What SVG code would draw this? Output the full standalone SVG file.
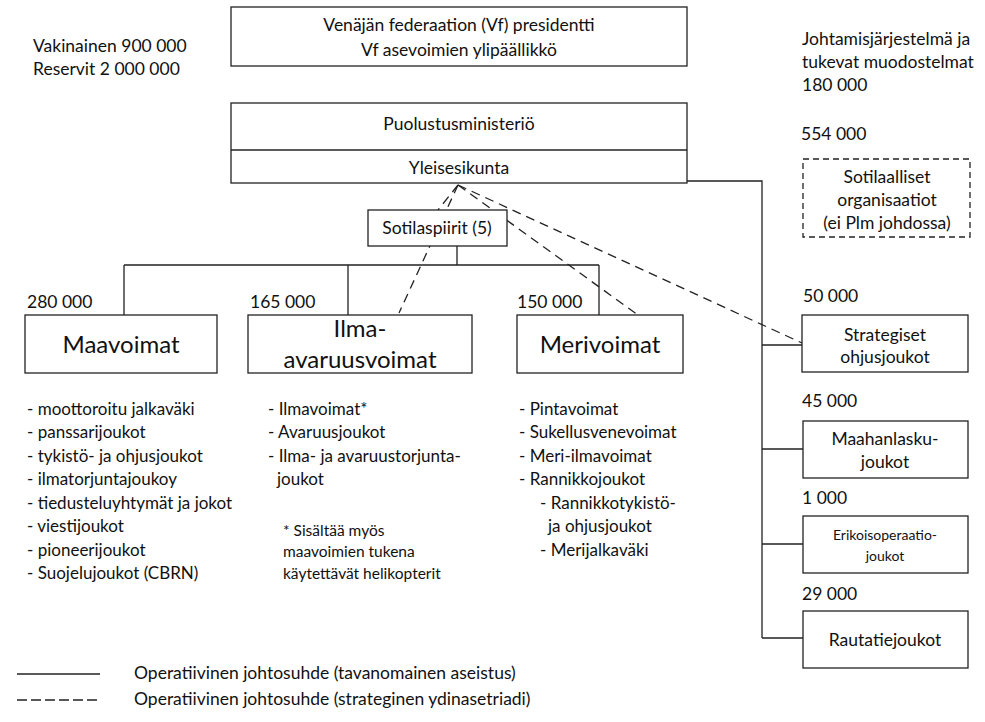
<svg xmlns="http://www.w3.org/2000/svg" width="985" height="722" viewBox="0 0 985 722">
<style>
text { font-family: Lato, "Open Sans", "Liberation Sans", sans-serif; fill: #111; font-size: 17.5px; }
.c { text-anchor: middle; }
.big { font-size: 24px; }
.li { font-size: 17px; }
.sm { font-size: 14px; }
.fn { font-size: 15.5px; }
.box { fill: #fff; stroke: #222; stroke-width: 1.3; }
.dbox { fill: #fff; stroke: #222; stroke-width: 1.3; stroke-dasharray: 6 4; }
.ln { fill: none; stroke: #222; stroke-width: 1.3; }
.dl { fill: none; stroke: #222; stroke-width: 1.3; stroke-dasharray: 9 6; }
</style>
<rect width="985" height="722" fill="#fff"/>

<g id="connectors">
  <path class="ln" d="M687,181 H762 V638 M762,345 H802 M762,449 H803 M762,544 H803 M762,638 H803"/>
  <path class="ln" d="M457,246 V265 M124,265 H599 M124,265 V315 M348,265 V315 M599,265 V315"/>
  <path class="dl" d="M458,185 L399,313"/>
  <path class="dl" d="M458,185 L438,210"/>
  <path class="dl" d="M458,185 L638,315"/>
  <path class="dl" d="M458,185 L802,343"/>
</g>

<g id="presidentti">
  <rect class="box" x="231" y="7" width="456" height="59"/>
  <text class="c" x="459" y="31">Venäjän federaation (Vf) presidentti</text>
  <text class="c" x="459" y="56">Vf asevoimien ylipäällikkö</text>
</g>

<g id="vahvuus">
  <text x="33" y="52">Vakinainen 900 000</text>
  <text x="33" y="75">Reservit 2 000 000</text>
</g>

<g id="johtamisjarjestelma">
  <text x="802" y="45">Johtamisjärjestelmä ja</text>
  <text x="802" y="68">tukevat muodostelmat</text>
  <text x="802" y="91">180 000</text>
</g>

<g id="puolustusministerio">
  <rect class="box" x="231" y="103" width="456" height="80"/>
  <line class="ln" x1="231" y1="150" x2="687" y2="150"/>
  <text class="c" x="459" y="130">Puolustusministeriö</text>
  <text class="c" x="459" y="174">Yleisesikunta</text>
</g>

<g id="sotilaalliset">
  <text x="801" y="140">554 000</text>
  <rect class="dbox" x="803" y="159" width="167" height="78"/>
  <text class="c" x="887" y="183">Sotilaalliset</text>
  <text class="c" x="887" y="206">organisaatiot</text>
  <text class="c" x="887" y="229">(ei Plm johdossa)</text>
</g>

<g id="sotilaspiirit">
  <rect class="box" x="368" y="210" width="139" height="36"/>
  <text class="c" x="437" y="234">Sotilaspiirit (5)</text>
</g>

<g id="maavoimat">
  <text x="27" y="308">280 000</text>
  <rect class="box" x="25" y="315" width="192" height="58"/>
  <text class="c big" x="121" y="353">Maavoimat</text>
  <text class="li" x="27" y="415">- moottoroitu jalkaväki</text>
  <text class="li" x="27" y="438">- panssarijoukot</text>
  <text class="li" x="27" y="462">- tykistö- ja ohjusjoukot</text>
  <text class="li" x="27" y="485">- ilmatorjuntajoukoy</text>
  <text class="li" x="27" y="509">- tiedusteluyhtymät ja jokot</text>
  <text class="li" x="27" y="532">- viestijoukot</text>
  <text class="li" x="27" y="556">- pioneerijoukot</text>
  <text class="li" x="27" y="579">- Suojelujoukot (CBRN)</text>
</g>

<g id="ilma-avaruusvoimat">
  <text x="250" y="308">165 000</text>
  <rect class="box" x="248" y="315" width="224" height="58"/>
  <text class="c big" x="360" y="337">Ilma-</text>
  <text class="c big" x="360" y="368">avaruusvoimat</text>
  <text class="li" x="268" y="415">- Ilmavoimat*</text>
  <text class="li" x="268" y="438">- Avaruusjoukot</text>
  <text class="li" x="268" y="462">- Ilma- ja avaruustorjunta-</text>
  <text class="li" x="277" y="485">joukot</text>
  <text class="fn" x="283" y="536">* Sisältää myös</text>
  <text class="fn" x="283" y="557">maavoimien tukena</text>
  <text class="fn" x="283" y="579">käytettävät helikopterit</text>
</g>

<g id="merivoimat">
  <text x="517" y="308">150 000</text>
  <rect class="box" x="517" y="315" width="166" height="58"/>
  <text class="c big" x="600" y="353">Merivoimat</text>
  <text class="li" x="519" y="415">- Pintavoimat</text>
  <text class="li" x="519" y="438">- Sukellusvenevoimat</text>
  <text class="li" x="519" y="462">- Meri-ilmavoimat</text>
  <text class="li" x="519" y="485">- Rannikkojoukot</text>
  <text class="li" x="540" y="509">- Rannikkotykistö-</text>
  <text class="li" x="548" y="532">ja ohjusjoukot</text>
  <text class="li" x="540" y="556">- Merijalkaväki</text>
</g>

<g id="strategiset">
  <text x="803" y="302">50 000</text>
  <rect class="box" x="802" y="315" width="166" height="57"/>
  <text class="c" x="885" y="341">Strategiset</text>
  <text class="c" x="885" y="363">ohjusjoukot</text>
</g>

<g id="maahanlasku">
  <text x="802" y="407">45 000</text>
  <rect class="box" x="803" y="421" width="165" height="57"/>
  <text class="c" x="885" y="445">Maahanlasku-</text>
  <text class="c" x="885" y="468">joukot</text>
</g>

<g id="erikoisoperaatio">
  <text x="802" y="504">1 000</text>
  <rect class="box" x="803" y="516" width="165" height="57"/>
  <text class="c sm" x="885" y="540">Erikoisoperaatio-</text>
  <text class="c sm" x="885" y="561">joukot</text>
</g>

<g id="rautatie">
  <text x="802" y="600">29 000</text>
  <rect class="box" x="803" y="611" width="165" height="57"/>
  <text class="c" x="885" y="646">Rautatiejoukot</text>
</g>

<g id="legend">
  <line class="ln" x1="17" y1="674" x2="100" y2="674"/>
  <line class="ln" x1="17" y1="700" x2="100" y2="700" stroke-dasharray="10 4"/>
  <text x="134" y="679">Operatiivinen johtosuhde (tavanomainen aseistus)</text>
  <text x="134" y="705">Operatiivinen johtosuhde (strateginen ydinasetriadi)</text>
</g>
</svg>
